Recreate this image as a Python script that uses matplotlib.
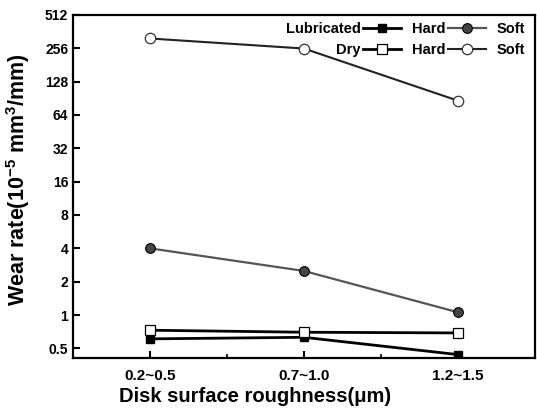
import numpy as np
import matplotlib
matplotlib.use("Agg")
from matplotlib import pyplot as plt, ticker
from matplotlib.lines import Line2D

plt.rcParams['font.family'] = ['Liberation Sans', 'DejaVu Sans']
plt.rcParams['font.weight'] = 'bold'
plt.rcParams['mathtext.fontset'] = 'custom'
plt.rcParams['mathtext.rm'] = 'Liberation Sans:bold'
plt.rcParams['mathtext.default'] = 'rm'

# data
roughness = ['0.2~0.5', '0.7~1.0', '1.2~1.5']
lub_hard = [0.61, 0.63, 0.44]
lub_soft = [4.0, 2.5, 1.06]
dry_hard = [0.73, 0.70, 0.69]
dry_soft = [313, 254, 86]
y_ticks = [0.5, 1, 2, 4, 8, 16, 32, 64, 128, 256, 512]
y_tick_labels = ['0.5', '1', '2', '4', '8', '16', '32', '64', '128', '256', '512']

x = np.arange(1, len(roughness) + 1)

fig = plt.figure(figsize=(5.37, 4.11), dpi=100)
ax = fig.add_axes([0.136, 0.129, 0.860, 0.835])

l_lh, = ax.plot(x, lub_hard, color='black', lw=2.0, marker='s', ms=6,
                mfc='black', mec='black', zorder=3)
l_ls, = ax.plot(x, lub_soft, color='#555555', lw=1.6, marker='o', ms=7,
                mfc='#444444', mec='black', mew=0.8, zorder=3)
l_dh, = ax.plot(x, dry_hard, color='black', lw=2.0, marker='s', ms=7,
                mfc='white', mec='black', mew=0.9, zorder=4)
l_ds, = ax.plot(x, dry_soft, color='#222222', lw=1.5, marker='o', ms=7.5,
                mfc='white', mec='#333333', mew=0.9, zorder=3)

ax.set_yscale('log', base=2)
ax.set_ylim(0.41, 512)
ax.set_xlim(0.5, 3.5)
ax.set_yticks(y_ticks)
ax.set_yticklabels(y_tick_labels)
ax.yaxis.set_minor_locator(ticker.LogLocator(base=2, subs=[1.19, 1.41, 1.68]))
ax.yaxis.set_minor_formatter(ticker.NullFormatter())
ax.set_xticks(x)
ax.set_xticklabels(roughness)
ax.set_xticks([1.5, 2.5], minor=True)

ax.tick_params(axis='both', which='major', direction='in', length=5, width=1.5)
ax.tick_params(axis='y', which='major', labelsize=10)
ax.tick_params(axis='x', which='major', labelsize=11, pad=8)
ax.tick_params(axis='both', which='minor', direction='in', length=3, width=1.2)
for s in ax.spines.values():
    s.set_linewidth(1.6)

ax.set_xlabel('Disk surface roughness(\u03bcm)', fontsize=14.5, fontweight='bold')
ax.set_ylabel('Wear rate(10$^{-5}$ mm$^{3}$/mm)', fontsize=15.5, fontweight='bold')
ax.xaxis.set_label_coords(0.394, -0.085)
ax.yaxis.set_label_coords(-0.088, 0.52)

blank = Line2D([], [], linestyle='none')
handles = [l_lh, l_dh, l_ls, l_ds, blank, blank]
labels = ['Lubricated', 'Dry', 'Hard', 'Hard', 'Soft', 'Soft']
leg = ax.legend(handles, labels, ncol=3, markerfirst=False, frameon=False,
                loc='upper right', bbox_to_anchor=(1.085, 1.005), fontsize=10.5,
                handlelength=2.6, handletextpad=0.2, columnspacing=0.7,
                labelspacing=0.5, borderaxespad=0.2)

fig.savefig('out.png', dpi=100)
